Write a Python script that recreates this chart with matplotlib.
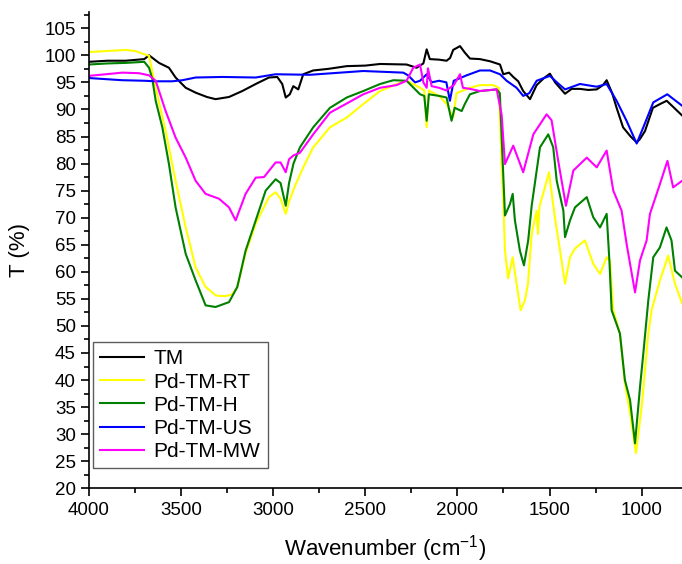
#!/usr/bin/env python3
"""FTIR transmittance spectra of TM and the Pd-TM samples."""
import matplotlib
matplotlib.use("Agg")
import matplotlib.pyplot as plt
from matplotlib.ticker import MultipleLocator

plt.rcParams["font.family"] = ["Liberation Sans", "DejaVu Sans"]

# values (wavenumber in cm-1, T in %)
tm_wn = [4000, 3900, 3800, 3700, 3674, 3620, 3566, 3530, 3475, 3421, 3360,
         3313, 3240, 3168, 3095, 3023, 2978, 2951, 2932, 2910, 2891, 2864,
         2837, 2783, 2700, 2601, 2500, 2420, 2276, 2222, 2185, 2167, 2150,
         2100, 2059, 2040, 2023, 1986, 1960, 1932, 1878, 1823, 1769, 1751,
         1720, 1697, 1670, 1643, 1606, 1570, 1530, 1498, 1470, 1416, 1380,
         1335, 1290, 1244, 1210, 1190, 1160, 1136, 1101, 1060, 1027, 1010,
         982, 939, 900, 864, 830, 781]
tm_t = [98.8, 99.0, 99.0, 99.3, 100.0, 98.6, 97.7, 95.9, 94.0, 93.1, 92.3,
        91.9, 92.3, 93.4, 94.7, 95.9, 96.0, 94.7, 92.2, 92.8, 94.3, 93.7,
        96.5, 97.2, 97.5, 98.0, 98.1, 98.4, 98.3, 97.7, 98.5, 101.1, 99.3,
        99.2, 99.0, 99.5, 101.0, 101.7, 100.5, 99.4, 99.3, 98.9, 98.3, 96.5,
        96.8, 96.0, 95.2, 93.4, 91.9, 94.5, 95.8, 96.6, 95.0, 92.9, 93.8,
        93.8, 93.6, 93.7, 94.5, 95.4, 93.0, 90.3, 86.7, 85.0, 83.9, 84.5,
        86.0, 90.3, 91.0, 91.6, 90.5, 88.9]

rt_wn = [4000, 3900, 3800, 3750, 3700, 3674, 3638, 3584, 3530, 3475, 3421,
         3367, 3310, 3260, 3224, 3195, 3150, 3095, 3023, 2987, 2960, 2932,
         2914, 2880, 2837, 2783, 2692, 2601, 2511, 2420, 2330, 2276, 2203,
         2180, 2167, 2155, 2100, 2059, 2023, 2005, 1932, 1878, 1806, 1775,
         1760, 1750, 1742, 1725, 1700, 1679, 1657, 1634, 1617, 1597, 1570,
         1563, 1555, 1530, 1503, 1490, 1471, 1443, 1416, 1389, 1362, 1308,
         1263, 1226, 1190, 1172, 1154, 1118, 1091, 1063, 1031, 1000, 964,
         946, 901, 856, 819, 781]
rt_t = [100.6, 100.8, 101.0, 100.8, 100.2, 99.9, 94.0, 86.0, 76.8, 68.2, 60.8,
        57.2, 55.6, 55.5, 55.8, 57.2, 63.4, 68.9, 73.8, 74.7, 73.5, 70.7,
        73.0, 76.0, 79.3, 83.0, 86.7, 88.5, 91.0, 93.4, 94.7, 95.3, 94.0,
        93.5, 86.7, 93.5, 92.5, 91.0, 88.5, 93.0, 94.0, 94.5, 94.5, 94.0,
        80.0, 72.0, 64.0, 58.8, 62.7, 57.8, 52.9, 54.7, 57.8, 67.0, 71.3,
        67.0, 72.0, 75.0, 78.4, 75.0, 70.0, 63.9, 57.8, 62.7, 64.3, 65.8,
        61.5, 59.6, 62.7, 62.0, 52.9, 48.6, 39.4, 33.9, 26.5, 35.0, 48.6,
        52.9, 58.4, 63.0, 57.8, 54.2]

h_wn = [4000, 3900, 3800, 3700, 3674, 3656, 3638, 3602, 3566, 3530, 3475,
        3421, 3367, 3313, 3240, 3195, 3150, 3095, 3041, 2987, 2960, 2932,
        2914, 2890, 2855, 2783, 2692, 2601, 2511, 2420, 2348, 2276, 2203,
        2180, 2167, 2155, 2100, 2059, 2032, 2015, 1977, 1960, 1932, 1878,
        1787, 1770, 1760, 1742, 1715, 1700, 1688, 1661, 1639, 1616, 1597,
        1552, 1507, 1480, 1461, 1425, 1416, 1389, 1362, 1298, 1263, 1226,
        1190, 1175, 1163, 1118, 1091, 1063, 1036, 1009, 991, 964, 937, 901,
        865, 838, 819, 781]
h_t = [98.3, 98.5, 98.6, 98.8, 97.7, 95.6, 91.6, 86.7, 79.9, 71.9, 63.3,
       58.4, 53.8, 53.5, 54.4, 57.2, 63.9, 69.5, 75.0, 77.1, 76.4, 72.2,
       76.4, 80.0, 83.0, 86.7, 90.3, 92.2, 93.4, 94.7, 95.4, 95.3, 92.8,
       92.5, 87.9, 92.8, 92.5, 92.2, 87.9, 90.3, 89.7, 91.0, 92.8, 93.4,
       93.7, 93.0, 85.0, 70.4, 72.5, 74.4, 69.5, 63.9, 61.2, 65.8, 72.2,
       83.0, 85.4, 83.0, 76.8, 71.3, 66.4, 69.5, 71.9, 73.8, 70.1, 68.2,
       70.7, 62.0, 52.9, 48.6, 40.0, 36.3, 28.3, 38.7, 44.9, 54.7, 62.7, 64.5,
       68.2, 65.8, 60.2, 59.0]

us_wn = [4000, 3820, 3700, 3638, 3548, 3493, 3421, 3277, 3095, 2987, 2800,
         2511, 2294, 2268, 2230, 2203, 2167, 2140, 2100, 2060, 2041, 2020,
         1950, 1878, 1823, 1769, 1733, 1679, 1643, 1610, 1570, 1498, 1460,
         1416, 1335, 1244, 1190, 1136, 1082, 1027, 991, 937, 861, 781]
us_t = [95.8, 95.4, 95.3, 95.2, 95.2, 95.4, 95.9, 96.0, 95.9, 96.5, 96.4,
        97.1, 96.8, 96.3, 95.0, 95.3, 96.5, 95.0, 95.3, 95.0, 91.6, 95.3,
        96.3, 97.2, 97.2, 96.5, 95.3, 94.0, 92.5, 93.0, 95.3, 96.2, 95.0,
        93.7, 94.7, 94.2, 94.7, 91.6, 87.9, 83.7, 86.7, 91.3, 92.8, 90.7]

mw_wn = [4000, 3819, 3729, 3674, 3638, 3584, 3530, 3475, 3421, 3367, 3294,
         3240, 3204, 3150, 3095, 3050, 2987, 2960, 2932, 2914, 2890, 2855,
         2783, 2692, 2601, 2511, 2420, 2330, 2276, 2240, 2203, 2185, 2167,
         2160, 2140, 2100, 2060, 2020, 1986, 1970, 1932, 1878, 1787, 1760,
         1742, 1697, 1643, 1588, 1516, 1489, 1453, 1411, 1371, 1298, 1244,
         1190, 1154, 1109, 1082, 1036, 1009, 973, 955, 901, 860, 829, 781]
mw_t = [96.2, 96.8, 96.7, 96.3, 95.3, 89.7, 84.8, 81.1, 76.8, 74.4, 73.5,
        71.9, 69.5, 74.4, 77.4, 77.5, 80.2, 80.2, 78.4, 80.8, 81.5, 82.0,
        85.4, 89.4, 91.1, 92.8, 94.0, 94.5, 95.3, 97.7, 98.3, 95.0, 94.0,
        97.6, 94.3, 94.0, 93.5, 94.5, 96.5, 94.0, 93.8, 93.4, 93.7, 89.0,
        79.9, 83.3, 78.4, 85.4, 89.1, 88.0, 80.5, 72.2, 78.7, 81.1, 79.3,
        82.4, 75.0, 71.3, 65.2, 56.2, 62.1, 65.8, 70.7, 76.2, 80.5, 75.6,
        76.8]

SERIES = [
    ("TM", tm_wn, tm_t, "#000000"),
    ("Pd-TM-RT", rt_wn, rt_t, "#FFFF00"),
    ("Pd-TM-H", h_wn, h_t, "#008000"),
    ("Pd-TM-US", us_wn, us_t, "#0000FF"),
    ("Pd-TM-MW", mw_wn, mw_t, "#FF00FF"),
]


def main() -> None:
    fig = plt.figure(figsize=(6.82, 5.64), dpi=100)
    ax = fig.add_axes([0.1305, 0.1342, 0.8695, 0.8445])

    for name, wn, t, color in SERIES:
        ax.plot(wn, t, color=color, lw=1.5, label=name)

    ax.set_xlim(4000, 781)
    ax.set_ylim(20, 108)
    ax.xaxis.set_major_locator(MultipleLocator(500))
    ax.xaxis.set_minor_locator(MultipleLocator(250))
    ax.yaxis.set_major_locator(MultipleLocator(5))
    ax.yaxis.set_minor_locator(MultipleLocator(2.5))
    ax.tick_params(which="major", direction="out", length=6, width=1.2,
                   labelsize=13.5)
    ax.tick_params(which="minor", direction="out", length=3.5, width=1.2)
    for side in ("top", "right"):
        ax.spines[side].set_visible(False)
    for side in ("left", "bottom"):
        ax.spines[side].set_linewidth(1.2)

    # hyphen superscript as in the original label
    ax.set_xlabel(r"Wavenumber (cm$^{\mathdefault{-1}}$)".replace("-1", "\u002d1"),
                  fontsize=16)
    ax.set_ylabel("T (%)", fontsize=16)
    ax.xaxis.set_label_coords(0.5, -0.095)
    ax.yaxis.set_label_coords(-0.1, 0.5)

    legend = ax.legend(loc="lower left", bbox_to_anchor=(0.007, 0.042),
                       borderaxespad=0, fontsize=15, frameon=True,
                       fancybox=False, handlelength=2.1, labelspacing=0.2,
                       borderpad=0.35, handletextpad=0.45)
    legend.get_frame().set_edgecolor("#333333")
    legend.get_frame().set_linewidth(1.0)

    fig.savefig("out.png", dpi=100)
    plt.close(fig)


if __name__ == "__main__":
    main()
